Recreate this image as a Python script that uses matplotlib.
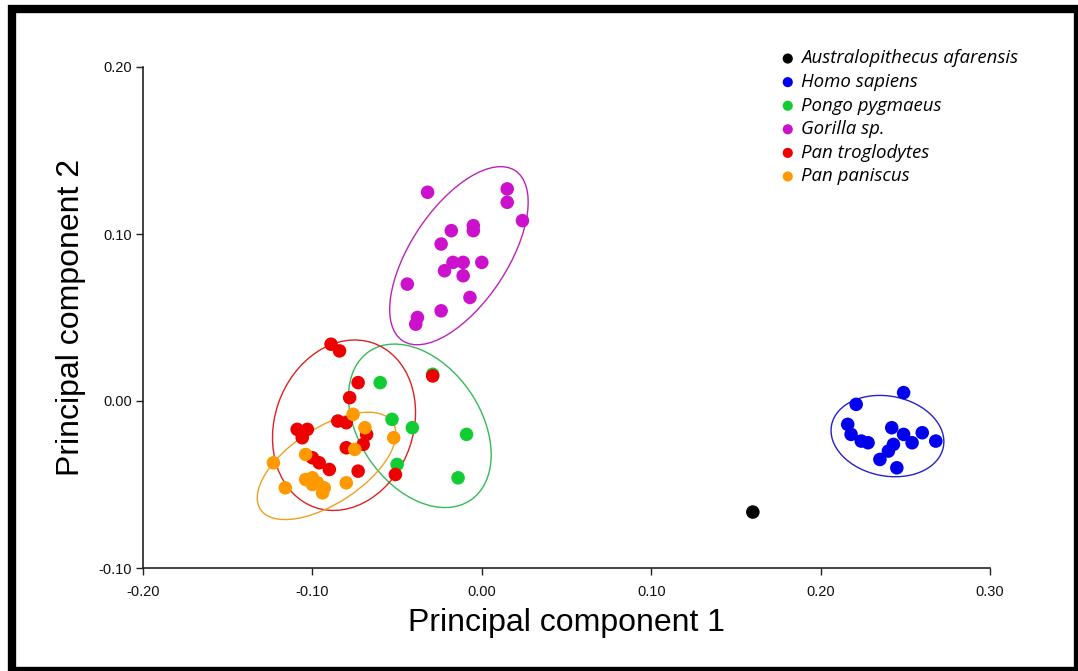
import numpy as np
import matplotlib
matplotlib.use("Agg")
import matplotlib.pyplot as plt
from matplotlib.patches import Ellipse, Rectangle

# PCA scores
afarensis_x = [0.160]
afarensis_y = [-0.0665]

sapiens_x = [0.249, 0.221, 0.216, 0.218, 0.224, 0.228, 0.242, 0.249, 0.254, 0.260, 0.268, 0.243, 0.240, 0.235, 0.245]
sapiens_y = [0.005, -0.002, -0.014, -0.020, -0.024, -0.025, -0.016, -0.020, -0.025, -0.019, -0.024, -0.026, -0.030, -0.035, -0.040]

pongo_x = [-0.060, -0.029, -0.053, -0.041, -0.009, -0.050, -0.014]
pongo_y = [0.011, 0.016, -0.011, -0.016, -0.020, -0.038, -0.046]

gorilla_x = [-0.032, 0.015, 0.015, 0.024, -0.005, -0.005, -0.018, -0.024, -0.017, -0.022,
             -0.011, 0.000, -0.011, -0.044, -0.007, -0.024, -0.038, -0.039]
gorilla_y = [0.125, 0.127, 0.119, 0.108, 0.105, 0.102, 0.102, 0.094, 0.083, 0.078,
             0.083, 0.083, 0.075, 0.070, 0.062, 0.054, 0.050, 0.046]

troglodytes_x = [-0.089, -0.084, -0.073, -0.078, -0.109, -0.106, -0.103, -0.085, -0.080,
                 -0.068, -0.070, -0.080, -0.100, -0.096, -0.090, -0.073, -0.051, -0.029]
troglodytes_y = [0.034, 0.030, 0.011, 0.002, -0.017, -0.022, -0.017, -0.012, -0.013,
                 -0.020, -0.026, -0.028, -0.034, -0.037, -0.041, -0.042, -0.044, 0.015]

paniscus_x = [-0.123, -0.116, -0.104, -0.104, -0.100, -0.100, -0.097, -0.093, -0.094,
              -0.076, -0.069, -0.052, -0.075, -0.080]
paniscus_y = [-0.037, -0.052, -0.032, -0.047, -0.046, -0.050, -0.049, -0.052, -0.055,
              -0.008, -0.016, -0.022, -0.029, -0.049]

groups = [
    ("Australopithecus afarensis", afarensis_x, afarensis_y, "#000000", None),
    ("Homo sapiens", sapiens_x, sapiens_y, "#0000ee", "#2222cc"),
    ("Pongo pygmaeus", pongo_x, pongo_y, "#11cc33", "#33bb55"),
    ("Gorilla sp.", gorilla_x, gorilla_y, "#cc11cc", "#bb22bb"),
    ("Pan troglodytes", troglodytes_x, troglodytes_y, "#ee0000", "#dd2222"),
    ("Pan paniscus", paniscus_x, paniscus_y, "#ff9900", "#eea020"),
]


def conf_ellipse(ax, x, y, color, n_std=2.13):
    cov = np.cov(x, y)
    vals, vecs = np.linalg.eigh(cov)
    order = vals.argsort()[::-1]
    vals, vecs = vals[order], vecs[:, order]
    angle = np.degrees(np.arctan2(vecs[1, 0], vecs[0, 0]))
    w, h = 2 * n_std * np.sqrt(vals)
    e = Ellipse((np.mean(x), np.mean(y)), w, h, angle=angle,
                fill=False, edgecolor=color, lw=1.0, zorder=2)
    ax.add_patch(e)


fig = plt.figure(figsize=(10.78, 6.71), dpi=100)
ax = fig.add_axes([143 / 1078, 1 - 568 / 671, (990 - 143) / 1078, (568 - 67) / 671])

for name, x, y, col, ecol in groups:
    ax.scatter(x, y, s=95, color=col, edgecolors="none", label=name, zorder=3)
    if ecol is not None:
        conf_ellipse(ax, x, y, ecol)

ax.set_xlim(-0.20, 0.30)
ax.set_ylim(-0.10, 0.20)
ax.set_xticks(np.arange(-0.20, 0.31, 0.10))
ax.set_yticks(np.arange(-0.10, 0.21, 0.10))
ax.xaxis.set_major_formatter(matplotlib.ticker.FormatStrFormatter("%.2f"))
ax.yaxis.set_major_formatter(matplotlib.ticker.FormatStrFormatter("%.2f"))
for s in ["top", "right"]:
    ax.spines[s].set_visible(False)
for s in ["left", "bottom"]:
    ax.spines[s].set_color("#222222")
    ax.spines[s].set_linewidth(1.2)
ax.tick_params(direction="out", length=5, width=1, color="#222222",
               labelsize=10.5, labelcolor="#111111", pad=3)
ax.tick_params(axis="x", pad=7)
for lab in ax.get_xticklabels() + ax.get_yticklabels():
    lab.set_family("Liberation Sans")

ax.set_xlabel("Principal component 1", fontsize=23, family="Liberation Sans", labelpad=7)
ax.set_ylabel("Principal component 2", fontsize=23, family="Liberation Sans", labelpad=9)

leg = ax.legend(loc="upper left", bbox_to_anchor=(771 / 1078, 1 - 42 / 671),
                bbox_transform=fig.transFigure, frameon=False,
                prop={"family": "Open Sans", "style": "italic", "size": 13.4},
                handletextpad=0.2, labelspacing=0.3, markerscale=0.75,
                borderaxespad=0, handlelength=1.0)

# black frame round the whole picture
fig.patches.append(Rectangle((12 / 1078, 0), 1066 / 1078, 662 / 671,
                             transform=fig.transFigure, fill=False,
                             edgecolor="black", lw=6))

fig.savefig("out.png", dpi=100)
